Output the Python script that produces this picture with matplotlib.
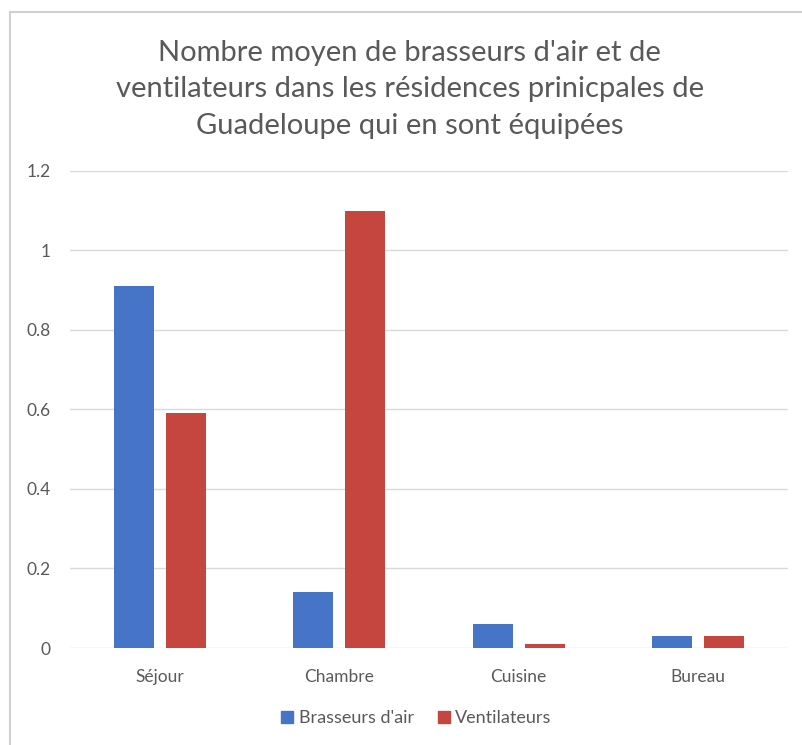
import numpy as np
import matplotlib.pyplot as plt
from matplotlib.lines import Line2D

categories = ["Séjour", "Chambre", "Cuisine", "Bureau"]
brasseurs = [0.91, 0.14, 0.06, 0.03]
ventilateurs = [0.59, 1.10, 0.01, 0.03]
yticks = [0, 0.2, 0.4, 0.6, 0.8, 1, 1.2]
ytick_labels = ["0", "0.2", "0.4", "0.6", "0.8", "1", "1.2"]

plt.rcParams['font.family'] = ['Lato', 'DejaVu Sans']

fig = plt.figure(figsize=(8.02, 7.45), dpi=100)
ax = fig.add_axes([0.0873, 0.1302, 0.8952, 0.6403])

x = np.arange(len(categories))
w = 0.222
ax.bar(x - 0.144, brasseurs, w, color='#4674C6', label="Brasseurs d'air", zorder=3)
ax.bar(x + 0.144, ventilateurs, w, color='#C4463F', label="Ventilateurs", zorder=3)

ax.set_xlim(-0.5, 3.5)
ax.set_ylim(0, 1.2)
ax.set_yticks(yticks)
ax.set_yticklabels(ytick_labels)
ax.set_xticks(x)
ax.set_xticklabels(categories)
ax.tick_params(length=0, labelsize=12.5, colors='#595959')
ax.tick_params(axis='y', pad=14)
ax.tick_params(axis='x', pad=15)
ax.grid(axis='y', color='#d9d9d9', linewidth=1, zorder=0)
for s in ax.spines.values():
    s.set_visible(False)

fig.text(0.511, 0.880,
         "Nombre moyen de brasseurs d'air et de\n"
         "ventilateurs dans les résidences prinicpales de\n"
         "Guadeloupe qui en sont équipées",
         ha='center', va='center', fontsize=21, color='#595959', linespacing=1.5)

handles = [Line2D([], [], marker='s', linestyle='none', markersize=8, color='#4674C6'),
           Line2D([], [], marker='s', linestyle='none', markersize=8, color='#C4463F')]
fig.legend(handles, ["Brasseurs d'air", "Ventilateurs"], loc='center',
           bbox_to_anchor=(0.519, 0.036), ncol=2, frameon=False, fontsize=13,
           labelcolor='#595959', handlelength=0.7, handletextpad=0.3,
           columnspacing=1.3)

# light frame along the top and left edges
fig.add_artist(Line2D([0.0125, 0.0125], [0, 0.984], color='#d0d0d0', lw=1.5,
                      transform=fig.transFigure))
fig.add_artist(Line2D([0.0125, 1], [0.984, 0.984], color='#d0d0d0', lw=1.5,
                      transform=fig.transFigure))

fig.savefig('out.png', dpi=100)
